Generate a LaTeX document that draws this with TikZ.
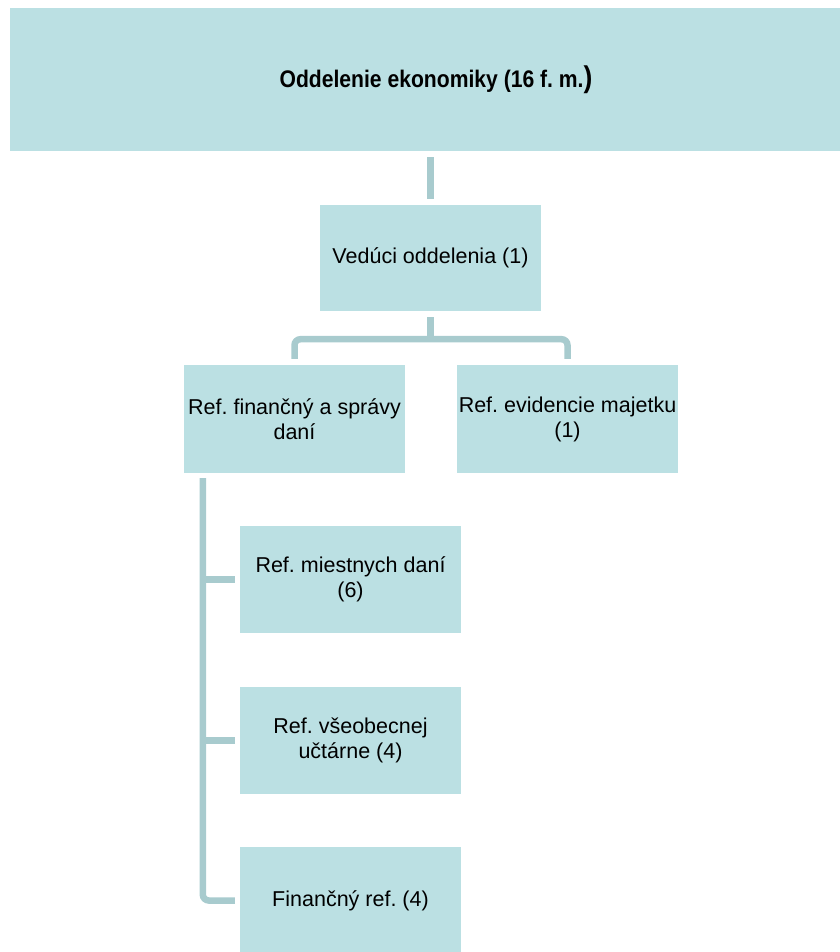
\documentclass[tikz,border=0pt]{standalone}
\usepackage{fontspec}
\setmainfont{Liberation Sans}
\usetikzlibrary{calc}
\frenchspacing
\definecolor{boxfill}{HTML}{BBE0E3}
\definecolor{connc}{HTML}{A8CBCE}
\tikzset{
  orgbox/.style={fill=boxfill, draw=none, minimum width=221pt, minimum height=107pt,
     align=center, inner sep=2pt, font=\fontsize{21.5}{25}\selectfont},
  conn/.style={draw=connc, line width=6.5pt, line cap=butt}
}
\begin{document}
\begin{tikzpicture}[x=1pt,y=1pt]
\useasboundingbox (0,0) rectangle (839,-952);
\node[fill=boxfill, minimum width=852pt, minimum height=143pt, inner sep=0pt] (top) at (436,-79.5)
  {\scalebox{0.88}[1]{\fontsize{24}{28}\selectfont\bfseries Oddelenie ekonomiky (16 f. m.{\fontsize{30}{30}\selectfont )}}};
\node[orgbox, minimum height=106pt] (ved) at (430.5,-258) {Vedúci oddelenia (1)};
\node[orgbox, minimum height=108pt] (fin) at (294.5,-419) {Ref. finančný a správy\\daní};
\node[orgbox, minimum height=108pt] (evi) at (567.5,-419) {Ref. evidencie majetku\\(1)};
\node[orgbox] (mie) at (350.5,-579.5) {Ref. miestnych daní\\(6)};
\node[orgbox] (vse) at (350.5,-740.5) {Ref. všeobecnej\\učtárne (4)};
\node[orgbox] (fref) at (350.5,-900.5) {Finančný ref. (4)};
% top to head
\draw[conn] ([yshift=-6pt]top.south -| ved.north) -- ([yshift=6pt]ved.north);
% head to two referents
\draw[conn] ([yshift=-6pt]ved.south) -- ([yshift=-28pt]ved.south);
\draw[conn, rounded corners=6pt] ([yshift=6pt]fin.north) |- ([yshift=-28pt]ved.south) -| ([yshift=6pt]evi.north);
% trunk under fin
\coordinate (trunk) at ([xshift=19pt,yshift=-5pt]fin.south west);
\draw[conn, rounded corners=6pt] (trunk) |- ([xshift=-5pt]fref.west);
\draw[conn] (trunk |- mie.west) -- ([xshift=-5pt]mie.west);
\draw[conn] (trunk |- vse.west) -- ([xshift=-5pt]vse.west);
\end{tikzpicture}
\end{document}
